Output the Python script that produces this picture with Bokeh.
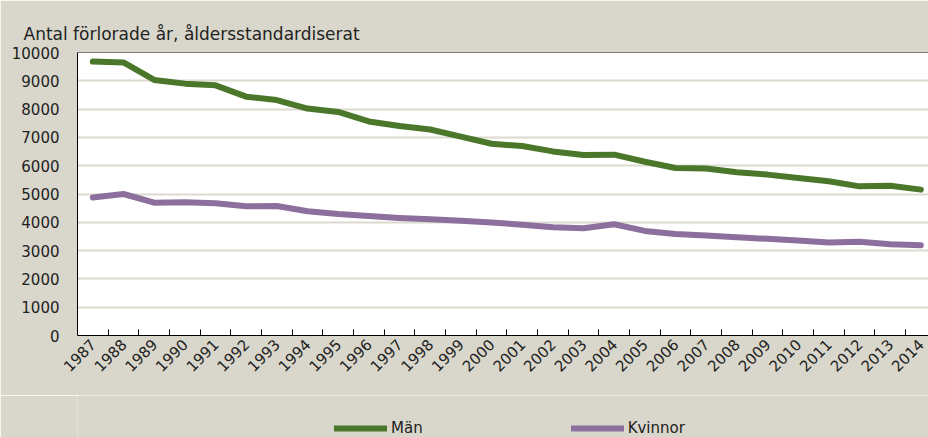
from bokeh.plotting import figure
from bokeh.layouts import column
from bokeh.models import (ColumnDataSource, FixedTicker, Legend, LegendItem, Span)
from bokeh.embed import file_html
from bokeh.resources import INLINE

years = ["1987", "1988", "1989", "1990", "1991", "1992", "1993", "1994", "1995", "1996",
         "1997", "1998", "1999", "2000", "2001", "2002", "2003", "2004", "2005", "2006",
         "2007", "2008", "2009", "2010", "2011", "2012", "2013", "2014"]
man = [9680, 9650, 9030, 8900, 8840, 8440, 8320, 8020, 7900, 7565,
       7400, 7280, 7030, 6775, 6695, 6505, 6380, 6390, 6140, 5920,
       5900, 5765, 5685, 5565, 5450, 5270, 5295, 5155]
kvinnor = [4880, 5000, 4695, 4705, 4675, 4565, 4575, 4390, 4295, 4225,
           4155, 4105, 4055, 3990, 3915, 3825, 3790, 3930, 3695, 3590,
           3530, 3470, 3415, 3355, 3285, 3315, 3225, 3190]
y_ticks = [0, 1000, 2000, 3000, 4000, 5000, 6000, 7000, 8000, 9000, 10000]
series_names = ["Män", "Kvinnor"]

BG = "#d9d7cb"
GREEN = "#4a7729"
PURPLE = "#8c6f9c"
FONT = "DejaVu Sans"

xs = list(range(len(years)))
src = ColumnDataSource(dict(x=xs, man=man, kvinnor=kvinnor))

p = figure(width=928, height=395, output_backend="svg", toolbar_location=None,
           x_range=(-0.5, 27.25), y_range=(0, 10000),
           background_fill_color="white", border_fill_color=BG,
           min_border_left=77, min_border_right=0, min_border_top=52,
           min_border_bottom=60)
p.outline_line_color = None

p.title.text = "Antal förlorade år, åldersstandardiserat"
p.title.text_font = FONT
p.title.text_font_size = "17px"
p.title.text_font_style = "normal"
p.title.text_color = "#222222"
p.title.align = "left"
p.title.offset = -54
p.title.standoff = 18

p.line("x", "man", source=src, line_color=GREEN, line_width=6, line_cap="round", line_join="round")
p.line("x", "kvinnor", source=src, line_color=PURPLE, line_width=6, line_cap="round", line_join="round")

p.add_layout(Span(location=10000, dimension="width", line_color="black", line_width=1))

p.xgrid.visible = False
p.ygrid.grid_line_color = "#dcd9cf"
p.ygrid.grid_line_width = 2
p.ygrid.ticker = FixedTicker(ticks=y_ticks)

p.yaxis.ticker = FixedTicker(ticks=y_ticks)
p.yaxis.axis_line_color = "black"
p.yaxis.major_tick_line_color = None
p.yaxis.minor_tick_line_color = None
p.yaxis.major_label_text_font = FONT
p.yaxis.major_label_text_font_size = "15px"
p.yaxis.major_label_text_color = "#222222"
p.yaxis.major_label_standoff = 12

p.xaxis.ticker = FixedTicker(ticks=xs, minor_ticks=[i + 0.5 for i in xs])
p.xaxis.major_label_overrides = {i: y for i, y in enumerate(years)}
p.xaxis.axis_line_color = "black"
p.xaxis.major_tick_in = 0
p.xaxis.major_tick_out = 0
p.xaxis.minor_tick_in = 6
p.xaxis.minor_tick_out = 0
p.xaxis.minor_tick_line_color = "black"
p.xaxis.major_label_orientation = 0.785
p.xaxis.major_label_text_font = FONT
p.xaxis.major_label_text_font_size = "15px"
p.xaxis.major_label_text_color = "#222222"
p.xaxis.major_label_standoff = 6

# legend strip below the chart (its lines sit outside the visible range)
leg = figure(width=928, height=42, output_backend="svg", toolbar_location=None,
             x_axis_type=None, y_axis_type=None, x_range=(0, 1), y_range=(0, 1),
             background_fill_color=BG, border_fill_color=BG,
             min_border_left=77, min_border_right=0, min_border_top=0, min_border_bottom=0)
leg.outline_line_color = None
leg.grid.visible = False
r1 = leg.line(x=[5, 6], y=[5, 6], line_color=GREEN, line_width=6, line_cap="round")
r2 = leg.line(x=[5, 6], y=[5, 6], line_color=PURPLE, line_width=6, line_cap="round")

legend = Legend(items=[LegendItem(label=series_names[0], renderers=[r1]),
                       LegendItem(label=series_names[1], renderers=[r2])],
                orientation="horizontal", location=(257, 0),
                background_fill_alpha=0, border_line_color=None,
                glyph_width=53, glyph_height=14, label_standoff=4, spacing=148,
                label_text_font=FONT, label_text_font_size="15px",
                label_text_color="#222222", padding=0, margin=0)
leg.add_layout(legend, "center")

layout = column(p, leg, spacing=0)
open("out.html", "w").write(file_html(layout, INLINE))
